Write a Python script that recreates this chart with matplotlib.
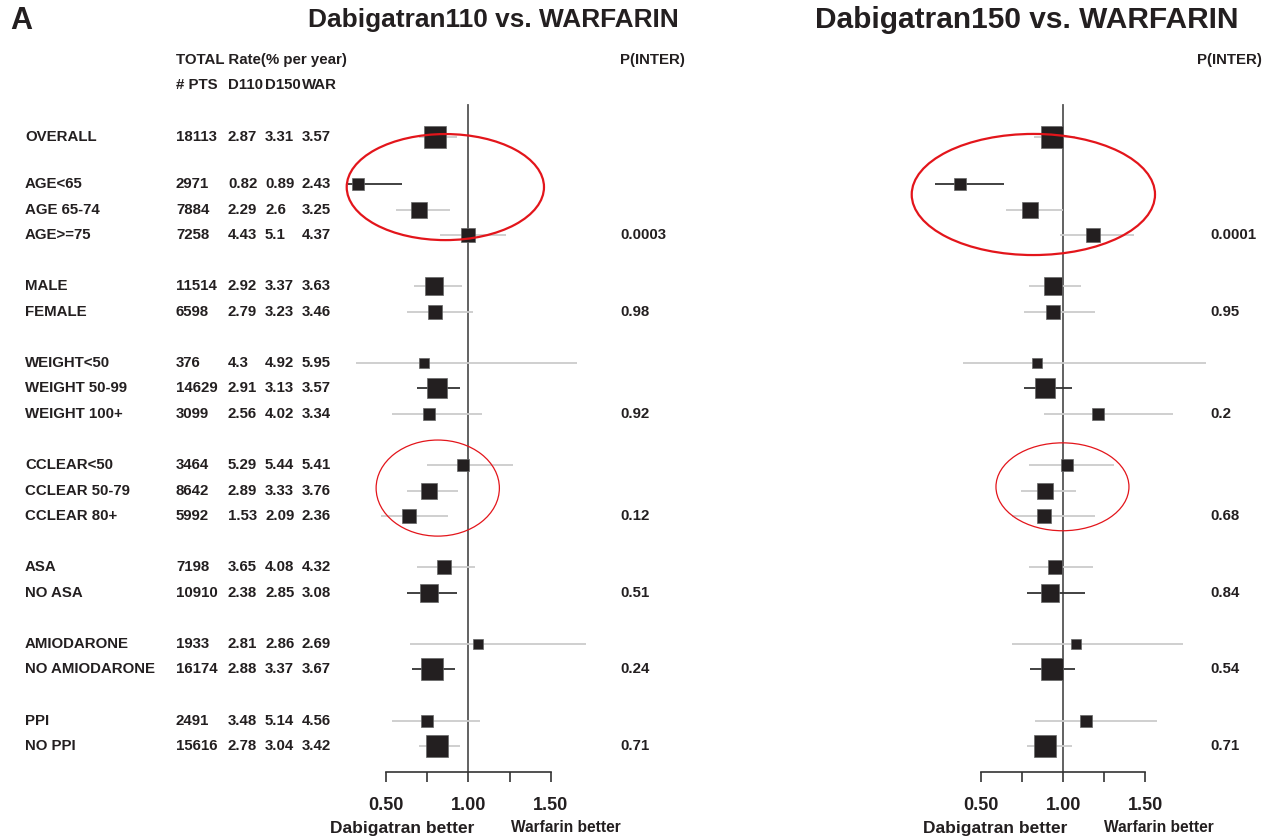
import numpy as np
import matplotlib.pyplot as plt
from matplotlib.patches import Ellipse
from matplotlib.transforms import blended_transform_factory

plt.rcParams['font.family'] = ['Liberation Sans', 'DejaVu Sans']

labels = ["OVERALL", "AGE<65", "AGE 65-74", "AGE>=75", "MALE", "FEMALE",
          "WEIGHT<50", "WEIGHT 50-99", "WEIGHT 100+", "CCLEAR<50", "CCLEAR 50-79",
          "CCLEAR 80+", "ASA", "NO ASA", "AMIODARONE", "NO AMIODARONE", "PPI", "NO PPI"]
groups = [0, 1, 1, 1, 2, 2, 3, 3, 3, 4, 4, 4, 5, 5, 6, 6, 7, 7]
n_pts = [18113, 2971, 7884, 7258, 11514, 6598, 376, 14629, 3099,
         3464, 8642, 5992, 7198, 10910, 1933, 16174, 2491, 15616]
rate_d110 = [2.87, 0.82, 2.29, 4.43, 2.92, 2.79, 4.3, 2.91, 2.56,
             5.29, 2.89, 1.53, 3.65, 2.38, 2.81, 2.88, 3.48, 2.78]
rate_d150 = [3.31, 0.89, 2.6, 5.1, 3.37, 3.23, 4.92, 3.13, 4.02,
             5.44, 3.33, 2.09, 4.08, 2.85, 2.86, 3.37, 5.14, 3.04]
rate_war = [3.57, 2.43, 3.25, 4.37, 3.63, 3.46, 5.95, 3.57, 3.34,
            5.41, 3.76, 2.36, 4.32, 3.08, 2.69, 3.67, 4.56, 3.42]

# hazard ratios with 95% CI, D110 vs warfarin
hr110 = [0.80, 0.33, 0.70, 1.00, 0.79, 0.80, 0.73, 0.81, 0.76,
         0.97, 0.76, 0.64, 0.85, 0.76, 1.06, 0.78, 0.75, 0.81]
lo110 = [0.70, 0.27, 0.56, 0.83, 0.67, 0.63, 0.32, 0.69, 0.54,
         0.75, 0.63, 0.47, 0.69, 0.63, 0.65, 0.66, 0.54, 0.70]
hi110 = [0.93, 0.60, 0.89, 1.23, 0.96, 1.03, 1.66, 0.95, 1.08,
         1.27, 0.94, 0.88, 1.04, 0.93, 1.71, 0.92, 1.07, 0.95]

# D150 vs warfarin
hr150 = [0.93, 0.37, 0.80, 1.18, 0.94, 0.94, 0.84, 0.89, 1.21,
         1.02, 0.89, 0.88, 0.95, 0.92, 1.08, 0.93, 1.14, 0.89]
lo150 = [0.82, 0.22, 0.65, 0.98, 0.79, 0.76, 0.39, 0.76, 0.88,
         0.79, 0.74, 0.69, 0.79, 0.78, 0.69, 0.80, 0.83, 0.78]
hi150 = [1.07, 0.64, 1.00, 1.43, 1.11, 1.19, 1.87, 1.05, 1.67,
         1.31, 1.08, 1.19, 1.18, 1.13, 1.73, 1.07, 1.57, 1.05]

p_rows = ["AGE>=75", "FEMALE", "WEIGHT 100+", "CCLEAR 80+", "NO ASA", "NO AMIODARONE", "NO PPI"]
p110 = ["0.0003", "0.98", "0.92", "0.12", "0.51", "0.24", "0.71"]
p150 = ["0.0001", "0.95", "0.2", "0.68", "0.84", "0.54", "0.71"]

dark_ci = {"AGE<65", "WEIGHT 50-99", "NO ASA", "NO AMIODARONE"}

W, H = 1268, 836
TXT = '#231f20'
RED = '#e3151b'

# row positions: one blank row between subgroups
ypos = []
for i, g in enumerate(groups):
    ypos.append(i + g - 2 if i > 0 else -1.85)

fig = plt.figure(figsize=(W / 100, H / 100), dpi=100)

def px_axes(x0, x1, y0, y1):
    return fig.add_axes([x0 / W, 1 - y1 / H, (x1 - x0) / W, (y1 - y0) / H])

axL = px_axes(340, 600, 100, 771.7)
axR = px_axes(900, 1240, 100, 771.7)
axL.set_xlim(0.2234, 1.797)
axR.set_xlim(0.0067, 2.075)


def forest(ax, hr, lo, hi, pvals, px_p):
    ax.set_ylim(23.0, -3.288)
    for s in ['top', 'right', 'left']:
        ax.spines[s].set_visible(False)
    ax.spines['bottom'].set_bounds(0.5, 1.5)
    ax.spines['bottom'].set_color('#333333')
    ax.spines['bottom'].set_linewidth(1.2)
    ax.set_yticks([])
    ax.set_xticks([0.5, 1.0, 1.5])
    ax.set_xticklabels(['0.50', '1.00', '1.50'], fontsize=13, fontweight='bold', color=TXT)
    ax.set_xticks([0.75, 1.25], minor=True)
    ax.tick_params(axis='x', which='both', direction='out', length=7.2, width=1.2,
                   color='#333333', pad=11)
    ax.axvline(1.0, ymin=0, ymax=0.9926, color='#555555', lw=1.3, zorder=1)

    for lab, y, h, a, b, n in zip(labels, ypos, hr, lo, hi, n_pts):
        c = '#333333' if lab in dark_ci else '#cccccc'
        ax.hlines(y, a, b, color=c, lw=1.3, zorder=2)
        side = 9.5 + 13.5 * n / 18113
        ax.plot(h, y, marker='s', ms=side * 0.72, color='#231f20',
                mec='#666666', mew=0.5, zorder=3)

    tr = blended_transform_factory(fig.transFigure, ax.transData)
    for lab, p in zip(p_rows, pvals):
        ax.text(px_p / W, ypos[labels.index(lab)], p, transform=tr, fontsize=10.8,
                fontweight='bold', color=TXT, va='center', ha='left')


forest(axL, hr110, lo110, hi110, p110, 620)
forest(axR, hr150, lo150, hi150, p150, 1210)

# highlighted subgroups
axL.add_patch(Ellipse((0.861, 0.12), 1.194, 4.15, fill=False, ec=RED, lw=1.6, clip_on=False, zorder=4))
axL.add_patch(Ellipse((0.815, 11.9), 0.746, 3.76, fill=False, ec=RED, lw=0.9, clip_on=False, zorder=4))
axR.add_patch(Ellipse((0.818, 0.41), 1.48, 4.74, fill=False, ec=RED, lw=1.6, clip_on=False, zorder=4))
axR.add_patch(Ellipse((0.995, 11.85), 0.809, 3.44, fill=False, ec=RED, lw=0.9, clip_on=False, zorder=4))

# table on the left
trL = blended_transform_factory(fig.transFigure, axL.transData)
cols = [(25, labels), (176, n_pts), (228, rate_d110), (265, rate_d150), (302, rate_war)]
for x, vals in cols:
    for y, v in zip(ypos, vals):
        s = v if isinstance(v, str) else f"{v:g}"
        axL.text(x / W, y, s, transform=trL, fontsize=10.8, fontweight='bold',
                 color=TXT, va='center', ha='left')


def ftext(x, y, s, **kw):
    kw.setdefault('color', TXT)
    kw.setdefault('fontweight', 'bold')
    fig.text(x / W, 1 - y / H, s, **kw)


ftext(10, 21, "A", fontsize=22, va='center', ha='left')
ftext(308, 20, "Dabigatran110 vs. WARFARIN", fontsize=18.9, va='center', ha='left')
ftext(815, 20, "Dabigatran150 vs. WARFARIN", fontsize=21.5, va='center', ha='left')
ftext(176, 60, "TOTAL Rate(% per year)", fontsize=10.8, va='center', ha='left')
ftext(176, 85, "# PTS", fontsize=10.8, va='center', ha='left')
ftext(228, 85, "D110", fontsize=10.8, va='center', ha='left')
ftext(265, 85, "D150", fontsize=10.8, va='center', ha='left')
ftext(302, 85, "WAR", fontsize=10.8, va='center', ha='left')
ftext(620, 60, "P(INTER)", fontsize=10.8, va='center', ha='left')
ftext(1197, 60, "P(INTER)", fontsize=10.8, va='center', ha='left')

ftext(402, 828, "Dabigatran better", fontsize=12.5, va='center', ha='center')
ftext(566, 828, "Warfarin better", fontsize=11.2, va='center', ha='center')
ftext(995, 828, "Dabigatran better", fontsize=12.5, va='center', ha='center')
ftext(1159, 828, "Warfarin better", fontsize=11.2, va='center', ha='center')

fig.savefig("out.png", dpi=100, facecolor='white')
